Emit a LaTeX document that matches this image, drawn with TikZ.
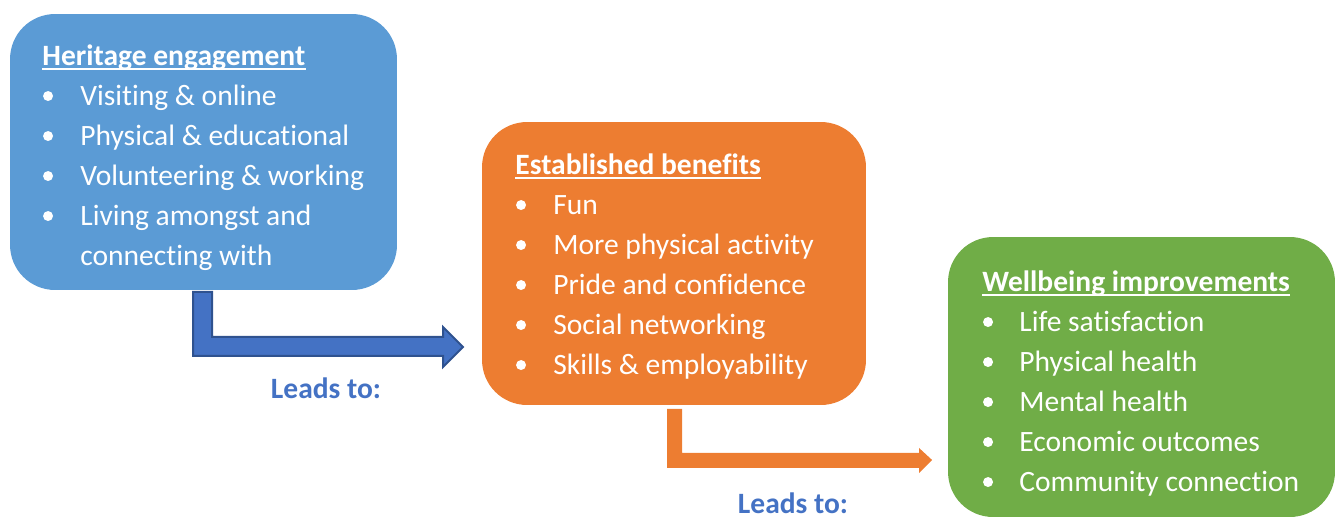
\documentclass[tikz,border=0pt]{standalone}
\usepackage{fontspec}
\setmainfont[Ligatures=NoCommon]{Carlito}
\usetikzlibrary{positioning,calc}

\definecolor{panelblue}{HTML}{5B9BD5}
\definecolor{panelorange}{HTML}{ED7D31}
\definecolor{panelgreen}{HTML}{70AD47}
\definecolor{arrowblue}{HTML}{4472C4}
\definecolor{arrowedge}{HTML}{2F528F}

\begin{document}
\begin{tikzpicture}[x=0.02cm, y=-0.02cm,
	panel/.style={rounded corners=0.9cm, inner sep=0, outer sep=0},
	heading/.style={inner sep=0, text=white, font=\fontsize{16.8}{22.7}\selectfont\bfseries},
	entry/.style={inner sep=0, text=white, font=\fontsize{16.8}{22.7}\selectfont},
	dot/.style={circle, fill=white, inner sep=0, minimum size=0.2cm},
	leads/.style={inner sep=0, text=arrowblue, font=\fontsize{16.8}{22.7}\selectfont\bfseries}]
	\useasboundingbox (0,0) rectangle (1336,518);
	
	% Coloured panels
	\node[panel, fill=panelblue, minimum width=7.74cm, minimum height=5.52cm] (heritage) at (203.5,152) {};
	\node[panel, fill=panelorange, minimum width=7.68cm, minimum height=5.66cm] (benefits) at (674,263.5) {};
	\node[panel, fill=panelgreen, minimum width=7.74cm, minimum height=5.6cm] (wellbeing) at (1141.5,377) {};
	
	% Panel headings
	\node[heading, anchor=base west] (heritagehead) at ($(heritage.north west)+(32,51)$) {Heritage engagement};
	\node[heading, anchor=base west] (benefitshead) at ($(benefits.north west)+(33,52)$) {Established benefits};
	\node[heading, anchor=base west] (wellbeinghead) at ($(wellbeing.north west)+(34,54)$) {Wellbeing improvements};
	\foreach \h in {heritagehead,benefitshead,wellbeinghead} {
		\draw[white, line width=0.04cm] ($(\h.base west)+(0,4)$) -- ($(\h.base east)+(0,4)$);
	}
	
	% Bullet lists
	\foreach \txt [count=\i] in {Visiting \& online, Physical \& educational, Volunteering \& working, Living amongst and} {
		\node[dot] at ($(heritagehead.base west)+(6,40*\i-9)$) {};
		\node[entry, anchor=base west] (heritage\i) at ($(heritagehead.base west)+(38,40*\i)$) {\txt};
	}
	\node[entry, anchor=base west] (heritage5) at ($(heritage4.base west)+(0,40)$) {connecting with};
	
	\foreach \txt [count=\i] in {Fun, More physical activity, Pride and confidence, Social networking, Skills \& employability} {
		\node[dot] at ($(benefitshead.base west)+(6,40*\i-9)$) {};
		\node[entry, anchor=base west] (benefits\i) at ($(benefitshead.base west)+(38,40*\i)$) {\txt};
	}
	
	\foreach \txt [count=\i] in {Life satisfaction, Physical health, Mental health, Economic outcomes, Community connection} {
		\node[dot] at ($(wellbeinghead.base west)+(6,40*\i-9)$) {};
		\node[entry, anchor=base west] (wellbeing\i) at ($(wellbeinghead.base west)+(37,40*\i)$) {\txt};
	}
	
	% Bent block arrows between panels
	\filldraw[fill=arrowblue, draw=arrowedge, line width=0.04cm, line join=miter]
		($(heritage.south west)+(183,2)$) -- ++(19,0) -- ++(0,45) -- ++(231,0) -- ++(0,-10)
		-- ++(20,20) -- ++(-20,20) -- ++(0,-11) -- ++(-250,0) -- cycle;
	\fill[panelorange]
		($(benefits.south west)+(185,4)$) -- ++(15,0) -- ++(0,44) -- ++(237,0) -- ++(0,-5)
		-- ++(13,12) -- ++(-13,13) -- ++(0,-5) -- ++(-252,0) -- cycle;
	
	% Arrow captions
	\node[leads, anchor=base] (lead1) at (326,398) {Leads to:};
	\node[leads, anchor=base] (lead2) at (793,513) {Leads to:};
\end{tikzpicture}
\end{document}
